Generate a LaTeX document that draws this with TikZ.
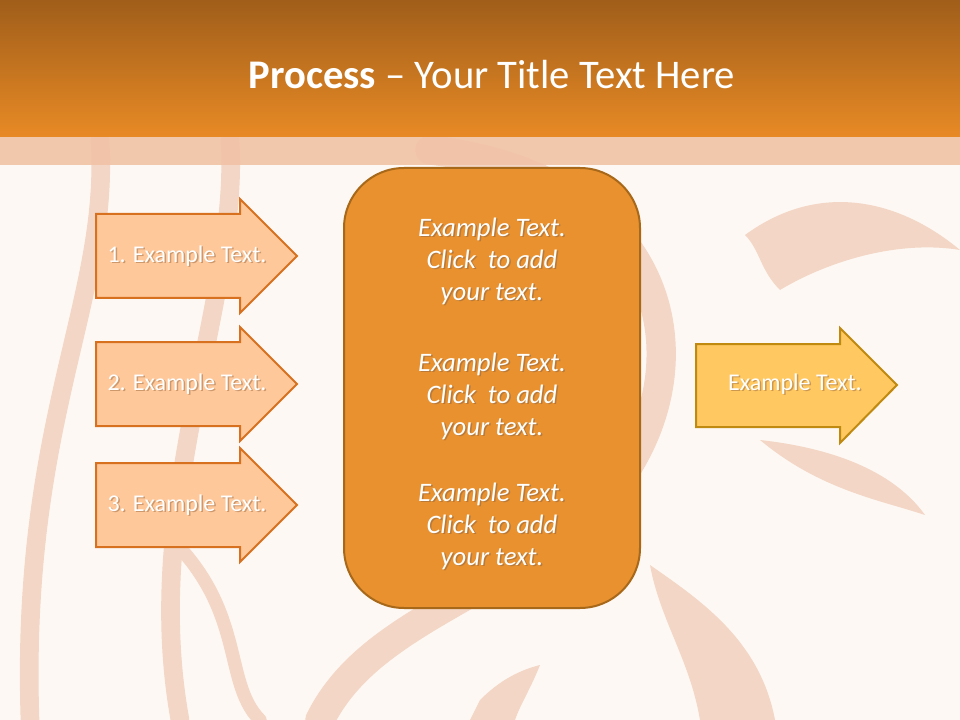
\documentclass[tikz,border=0pt]{standalone}
\usepackage{fontspec}
\setmainfont{Carlito}
\definecolor{bg}{HTML}{FDF8F3}
\definecolor{swirl}{HTML}{F3D6C5}
\definecolor{hdtop}{HTML}{A05E1A}
\definecolor{hdbot}{HTML}{E88A25}
\definecolor{band}{HTML}{F1C3A6}
\definecolor{peach}{HTML}{FFC89A}
\definecolor{peachb}{HTML}{D8711F}
\definecolor{cbox}{HTML}{E8912E}
\definecolor{cboxb}{HTML}{A8681A}
\definecolor{yel}{HTML}{FFC860}
\definecolor{yelb}{HTML}{C08A10}
\definecolor{shd}{HTML}{9A6A40}
\tikzset{
 larrow/.style={fill=peach,draw=peachb,line width=1.5pt},
 rarrow/.style={fill=yel,draw=yelb,line width=1.5pt},
 lbl/.style={text=white,font=\fontsize{18}{22}\selectfont},
 lblsh/.style={text=shd,opacity=0.5,font=\fontsize{18}{22}\selectfont},
 ctext/.style={text=white,font=\itshape\fontsize{20}{24}\selectfont,align=center},
 ctextsh/.style={text=shd,opacity=0.6,font=\itshape\fontsize{20}{24}\selectfont,align=center},
 sw/.style={draw=swirl,line width=14pt,line cap=round}
}
\begin{document}
\begin{tikzpicture}[x=0.75pt,y=-0.75pt]
\useasboundingbox (0,0) rectangle (960,720);
\fill[bg] (0,0) rectangle (960,720);
% decorative swirls
\draw[sw] (100,140) .. controls (110,300) and (20,420) .. (30,720);
\draw[sw] (230,140) .. controls (240,300) and (140,500) .. (180,720);
\draw[sw,line width=10pt] (150,520) .. controls (250,600) and (220,680) .. (260,720);
\draw[sw,line width=22pt] (430,150) .. controls (700,180) and (720,420) .. (560,540) .. controls (450,610) and (360,640) .. (320,720);
\fill[swirl] (745,235) .. controls (820,180) and (900,200) .. (960,250) .. controls (900,240) and (830,260) .. (780,290) .. controls (760,270) and (760,250) .. (745,235);
\fill[swirl] (760,440) .. controls (850,450) and (900,480) .. (925,515) .. controls (880,500) and (820,490) .. (760,440);
\fill[swirl] (650,565) .. controls (700,600) and (760,640) .. (775,720) -- (700,720) .. controls (690,660) and (660,620) .. (650,565);
\fill[swirl] (480,700) .. controls (500,680) and (520,670) .. (540,665) .. controls (530,690) and (520,705) .. (515,720) -- (470,720) -- cycle;
% header
\shade[top color=hdtop,bottom color=hdbot] (0,0) rectangle (960,137);
\fill[band,opacity=0.9] (0,137) rectangle (960,165);
\node[text=white,font=\fontsize{30.5}{34}\selectfont] (title) at (492,75) {\textbf{Process} – Your Title Text Here};
% left arrows
\foreach \i/\c in {1/256,2/384,3/505}{
 \draw[larrow] (96,\c-42) -- (240,\c-42) -- (240,\c-57) -- (297,\c) -- (240,\c+57) -- (240,\c+42) -- (96,\c+42) -- cycle;
 \node[lblsh] at (188.5,\c+1.5) {\i. Example Text.};
 \node[lbl] (l\i) at (187,\c) {\i. Example Text.};
}
% center box
\draw[fill=cbox,draw=cboxb,line width=1.5pt,rounded corners=45pt] (344,168) rectangle (640,608);
\foreach \n/\y in {c1/261,c2/396,c3/526}{
 \node[ctextsh] at (493.5,\y+1.5) {Example Text.\\Click~ to add\\your text.};
 \node[ctext] (\n) at (492,\y) {Example Text.\\Click~ to add\\your text.};
}
% right arrow
\draw[rarrow] (696,344) -- (840,344) -- (840,328) -- (897,385) -- (840,443) -- (840,427) -- (696,427) -- cycle;
\node[lblsh] at (796.5,385.5) {Example Text.};
\node[lbl] (r) at (795,384) {Example Text.};
\end{tikzpicture}
\end{document}
